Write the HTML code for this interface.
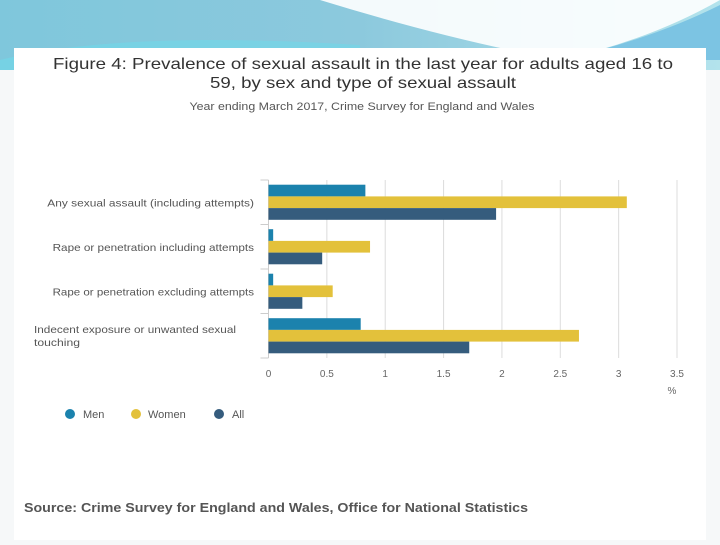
<!DOCTYPE html>
<html><head><meta charset="utf-8"><style>
body{margin:0;width:720px;height:540px;overflow:hidden;background:#f6f8f9;font-family:"Liberation Sans",sans-serif;}
</style></head><body>
<svg width="720" height="540" viewBox="0 0 720 540">
<defs>
<linearGradient id="bg" x1="0" y1="0" x2="1" y2="0">
<stop offset="0" stop-color="#7fc7dc"/><stop offset="0.5" stop-color="#8cc9dd"/><stop offset="1" stop-color="#b3e3ec"/>
</linearGradient>
</defs>
<rect x="0" y="0" width="720" height="70" fill="url(#bg)"/>
<path d="M0,60 Q120,30 360,45 L360,70 L0,70Z" fill="#6fd8ea" opacity="0.6"/>
<path d="M320,0 Q450,40 560,60 Q650,40 720,0 Z" fill="#ffffff" opacity="0.9"/>
<path d="M560,60 Q650,40 720,5 L720,60Z" fill="#7cc4e3"/>
<rect x="14" y="48" width="692" height="492" fill="#ffffff"/>
<text x="363" y="69" text-anchor="middle" font-size="16" fill="#333" textLength="620" lengthAdjust="spacingAndGlyphs">Figure 4: Prevalence of sexual assault in the last year for adults aged 16 to</text>
<text x="363" y="88" text-anchor="middle" font-size="16" fill="#333" textLength="306" lengthAdjust="spacingAndGlyphs">59, by sex and type of sexual assault</text>
<text x="362" y="110" text-anchor="middle" font-size="11" fill="#555" textLength="345" lengthAdjust="spacingAndGlyphs">Year ending March 2017, Crime Survey for England and Wales</text>
<g id="plot"></g>
<g>
<circle cx="70" cy="414" r="5" fill="#1b82ad"/>
<text x="83" y="418" font-size="11" fill="#555">Men</text>
<circle cx="136" cy="414" r="5" fill="#e3c13b"/>
<text x="148" y="418" font-size="11" fill="#555">Women</text>
<circle cx="219" cy="414" r="5" fill="#355c7d"/>
<text x="232" y="418" font-size="11" fill="#555">All</text>
</g>
<text x="24" y="512" font-size="13" font-weight="bold" fill="#555" textLength="504" lengthAdjust="spacingAndGlyphs">Source: Crime Survey for England and Wales, Office for National Statistics</text>
</svg>
<script>
const categories = [["Any sexual assault (including attempts)"],["Rape or penetration including attempts"],["Rape or penetration excluding attempts"],["Indecent exposure or unwanted sexual","touching"]];
const menValues = [0.83,0.04,0.04,0.79];
const womenValues = [3.07,0.87,0.55,2.66];
const allValues = [1.95,0.46,0.29,1.72];
const tickValues = [0,0.5,1,1.5,2,2.5,3,3.5];
const tickLabels = ["0","0.5","1","1.5","2","2.5","3","3.5"];
const NS="http://www.w3.org/2000/svg";
const g=document.getElementById('plot');
const x0=268.5,x1=677,xmax=3.5,yTop=180,band=44.5,barH=11.7;
const xs=v=>x0+(x1-x0)*v/xmax;
function mk(t,a){const e=document.createElementNS(NS,t);for(const k in a)e.setAttribute(k,a[k]);g.appendChild(e);return e;}
tickValues.forEach((v,i)=>{
 if(i>0){const l=mk('line',{x1:xs(v),x2:xs(v),y1:yTop,y2:yTop+band*4,stroke:'#dcdcdc','stroke-width':1});
 
 }
 const t=mk('text',{x:xs(v),y:377,'text-anchor':'middle','font-size':10,fill:'#666'});t.textContent=tickLabels[i];
 
 
});
const pu=mk('text',{x:672,y:394,'text-anchor':'middle','font-size':10,fill:'#666'});pu.textContent='%';


const ax=mk('line',{x1:x0,x2:x0,y1:yTop,y2:yTop+band*4,stroke:'#ccc'});


for(let i=0;i<=4;i++){const tk=mk('line',{x1:x0-8,x2:x0,y1:yTop+band*i,y2:yTop+band*i,stroke:'#ccc'});

}
const series=[[menValues,'#1b82ad','men'],[womenValues,'#e3c13b','women'],[allValues,'#355c7d','all']];
categories.forEach((c,i)=>{
 const top=yTop+band*i+(band-barH*3)/2;
 series.forEach((s,j)=>{
  const r=mk('rect',{x:x0,y:top+j*barH,width:xs(s[0][i])-x0,height:barH,fill:s[1]});
  
  
 });
 const cy=yTop+band*i+band/2;
 c.forEach((line,k)=>{
  const multi=c.length>1;
  const t=mk('text',{x:multi?34:254,y:multi?cy-7+k*13+4:cy+4,'text-anchor':multi?'start':'end','font-size':10.5,fill:'#555',
    textLength:multi?(k===0?202:46):(line.length*5.3),lengthAdjust:'spacingAndGlyphs'});
  t.textContent=line;
  
  
 });
});
</script>
</body></html>
